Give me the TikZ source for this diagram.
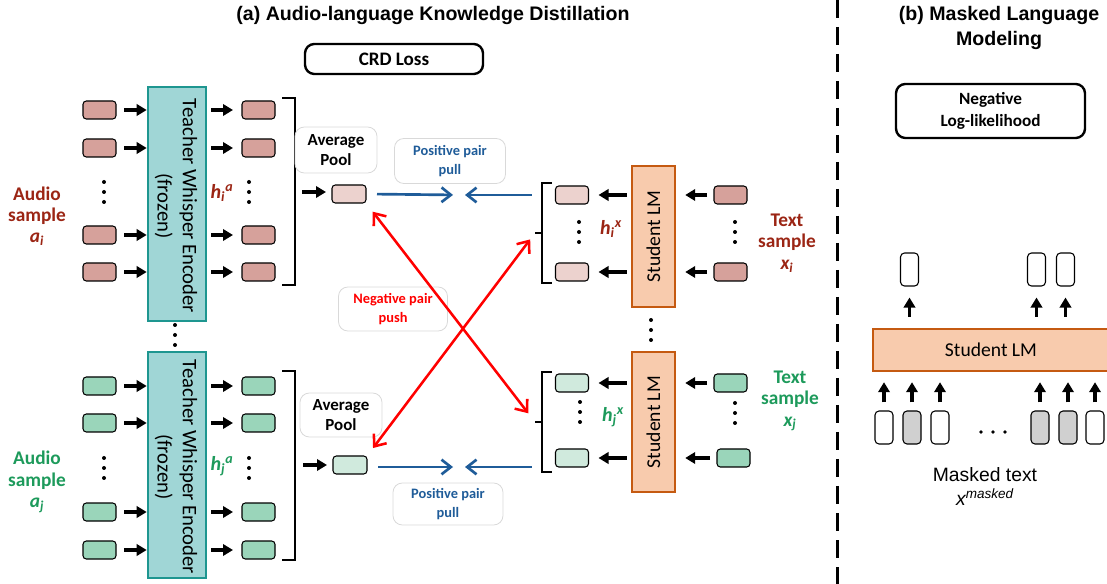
\documentclass[tikz,border=0pt]{standalone}
\usepackage{fontspec}
\setmainfont{Carlito}
\newfontfamily\arialfont{Liberation Sans}
\usetikzlibrary{arrows.meta}
\newlength{\pxu}\setlength{\pxu}{0.75pt}
\definecolor{inred}{HTML}{D6A19B}
\definecolor{outred}{HTML}{ECD2CE}
\definecolor{ingreen}{HTML}{9AD5BA}
\definecolor{outgreen}{HTML}{D0EADD}
\definecolor{tealf}{HTML}{A0D6D6}
\definecolor{tealb}{HTML}{1E9690}
\definecolor{orgf}{HTML}{F8CBAD}
\definecolor{orgb}{HTML}{C55A11}
\definecolor{dred}{HTML}{9B2514}
\definecolor{dgreen}{HTML}{1D9A5B}
\definecolor{pblue}{HTML}{1F5C99}
\definecolor{lgray}{HTML}{D9D9D9}
\definecolor{mgray}{HTML}{D0D0D0}
\newcommand{\fs}[2]{\fontsize{#1}{#2}\selectfont}
\newcommand{\vdotsat}[2]{\fill (#1,#2-10) circle[radius=1.5pt] (#1,#2) circle[radius=1.5pt] (#1,#2+10) circle[radius=1.5pt];}
\tikzset{
  vec/.style={draw=black, line width=0.8pt, rounded corners=2.5pt, minimum width=33\pxu, minimum height=18\pxu, inner sep=0pt, outer sep=0pt},
  inR/.style={vec, fill=inred}, outR/.style={vec, fill=outred},
  inG/.style={vec, fill=ingreen}, outG/.style={vec, fill=outgreen},
  tok/.style={draw=black, line width=0.8pt, rounded corners=3pt, minimum width=18\pxu, minimum height=33\pxu, inner sep=0pt, fill=white},
  teacher/.style={draw=tealb, fill=tealf, line width=2.6\pxu, minimum width=58\pxu, inner sep=0pt},
  student/.style={draw=orgb, fill=orgf, line width=2.4\pxu, minimum width=43\pxu, inner sep=0pt},
  lbl/.style={draw=lgray, line width=0.6pt, rounded corners=7pt, inner sep=0pt, align=center, fill=white},
  loss/.style={draw=black, line width=2.4\pxu, rounded corners=7pt, inner sep=0pt, align=center},
  blk/.style={line width=2.3pt, -{Triangle[length=7.5pt,width=8.5pt]}},
  pull/.style={draw=pblue, line width=2pt, -{Straight Barb[length=7pt,width=11pt]}},
  push/.style={draw=red, line width=1.9pt, {Straight Barb[length=7.5pt,width=12pt]}-{Straight Barb[length=7.5pt,width=12pt]}},
  brk/.style={line width=1.9pt},
  smp/.style={align=center, font=\bfseries\fs{14.5}{16}, inner sep=0pt},
  hh/.style={font=\bfseries\itshape\fs{15}{18}, inner sep=0pt},
  pl/.style={font=\bfseries\fs{10.8}{14.5}},
  ap/.style={font=\bfseries\fs{12.7}{15.5}},
}
\begin{document}
\begin{tikzpicture}[x=0.75pt,y=-0.75pt]
\useasboundingbox (0,0) rectangle (1107,584);
% titles
\node[font=\arialfont\bfseries\fs{14.7}{18}] (titA) at (433,15) {(a) Audio-language Knowledge Distillation};
\node[font=\arialfont\bfseries\fs{14.7}{18.5}, align=center] (titB) at (999,28) {(b) Masked Language\\Modeling};
\draw[line width=3\pxu, dash pattern=on 18\pxu off 9\pxu] (837,0) -- (837,584);
% CRD loss
\node[loss, minimum width=178\pxu, minimum height=30\pxu, font=\bfseries\fs{14.3}{17}] (crd) at (394,59) {CRD Loss};

% ===== audio group i =====
\node[teacher, minimum height=234\pxu] (tA) at (177,204) {};
\node[rotate=-90, align=center, font=\fs{15.5}{19}, inner sep=0pt] (tAt) at (176,206) {Teacher Whisper Encoder\\(frozen)};
\foreach \n/\y in {1/110,2/148,3/235,4/272}{
  \node[inR] (ia\n) at (99.5,\y) {};
  \node[inR] (oa\n) at (258.5,\y) {};
  \draw[blk, shorten <=8\pxu] (ia\n.east) -- (ia\n.east -| tA.west);
  \draw[blk, shorten <=4\pxu, shorten >=9\pxu] (ia\n.east -| tA.east) -- (oa\n.west);
}
\vdotsat{104}{192}
\vdotsat{249}{192}
\node[smp, text=dred] (audA) at (37,216) {Audio\\sample\\\textit{a\textsubscript{i}}};
\node[hh, text=dred] (hA) at (222,193) {h\textsubscript{i}\textsuperscript{a}};
\draw[brk] (282,98) -- (295,98) -- (295,285) -- (282,285);
\coordinate (brA) at (295,192);
\node[lbl, minimum width=82\pxu, minimum height=46\pxu, ap] (avgA) at (336,150) {Average\\Pool};
\node[outR, minimum width=34\pxu] (pa) at (349,194) {};
\draw[blk, shorten <=7\pxu, shorten >=6\pxu] (brA) -- (brA -| pa.west);

% ===== audio group j =====
\node[teacher, minimum height=226\pxu] (tB) at (177,465) {};
\node[rotate=-90, align=center, font=\fs{15.5}{19}, inner sep=0pt] (tBt) at (176,467) {Teacher Whisper Encoder\\(frozen)};
\foreach \n/\y in {1/386,2/423,3/512,4/550}{
  \node[inG] (ib\n) at (99.5,\y) {};
  \node[inG] (ob\n) at (258.5,\y) {};
  \draw[blk, shorten <=8\pxu] (ib\n.east) -- (ib\n.east -| tB.west);
  \draw[blk, shorten <=4\pxu, shorten >=9\pxu] (ib\n.east -| tB.east) -- (ob\n.west);
}
\vdotsat{104}{468}
\vdotsat{249}{468}
\vdotsat{175}{335}
\node[smp, text=dgreen] (audB) at (37,482) {Audio\\sample\\\textit{a\textsubscript{j}}};
\node[hh, text=dgreen] (hB) at (222,466) {h\textsubscript{j}\textsuperscript{a}};
\draw[brk] (282,371) -- (295,371) -- (295,560) -- (282,560);
\coordinate (brB) at (295,465);
\node[lbl, minimum width=82\pxu, minimum height=44\pxu, ap] (avgB) at (341,415) {Average\\Pool};
\node[outG, minimum width=34\pxu] (pb) at (350,465) {};
\draw[blk, shorten <=8\pxu, shorten >=6\pxu] (brB) -- (pb.west);

% ===== student i =====
\node[student, minimum height=141\pxu] (sA) at (653.5,236.5) {};
\node[rotate=90, font=\fs{14.7}{17}, inner sep=0pt] (sAt) at (sA) {Student LM};
\foreach \n/\y in {1/195,2/272}{
  \node[outR] (sa\n) at (572,\y) {};
  \node[inR] (xa\n) at (730.5,\y) {};
  \draw[blk, shorten <=4\pxu, shorten >=10\pxu] (sa\n.east -| sA.west) -- (sa\n.east);
  \draw[blk, shorten <=7\pxu, shorten >=9\pxu] (xa\n.west) -- (xa\n.west -| sA.east);
}
\vdotsat{579}{232}
\vdotsat{735}{232}
\draw[brk] (552,183) -- (542,183) -- (542,283) -- (552,283);
\draw[brk] (542,233) -- (535,233);
\coordinate (bxA) at (535,233);
\node[hh, text=dred] (hxA) at (611,229) {h\textsubscript{i}\textsuperscript{x}};
\node[smp, text=dred] (txA) at (787,243) {Text\\sample\\\textit{x\textsubscript{i}}};

% ===== student j =====
\node[student, minimum height=140\pxu] (sB) at (653.5,422) {};
\node[rotate=90, font=\fs{14.7}{17}, inner sep=0pt] (sBt) at (sB) {Student LM};
\foreach \n/\y/\xx in {1/383/730.5,2/458/733.5}{
  \node[outG] (sb\n) at (572,\y) {};
  \node[inG] (xb\n) at (\xx,\y) {};
  \draw[blk, shorten <=4\pxu, shorten >=10\pxu] (sb\n.east -| sB.west) -- (sb\n.east);
  \draw[blk, shorten <=7\pxu, shorten >=9\pxu] (xb\n.west) -- (xb\n.west -| sB.east);
}
\vdotsat{580}{412}
\vdotsat{735}{413}
\vdotsat{651}{330}
\draw[brk] (552,372) -- (542,372) -- (542,472) -- (552,472);
\draw[brk] (542,422) -- (535,422);
\coordinate (bxB) at (535,422);
\node[hh, text=dgreen] (hxB) at (613,417) {h\textsubscript{j}\textsuperscript{x}};
\node[smp, text=dgreen] (txB) at (790,401) {Text\\sample\\\textit{x\textsubscript{j}}};

% ===== contrastive arrows =====
\coordinate (meetA) at (459,195);
\coordinate (meetB) at (459,467);
\node[lbl, minimum width=111\pxu, minimum height=45\pxu, text=pblue, pl] (posA) at (450,161) {Positive pair\\pull};
\node[lbl, minimum width=110\pxu, minimum height=42\pxu, text=pblue, pl] (posB) at (448,504) {Positive pair\\pull};
\draw[pull, shorten <=11\pxu, shorten >=6\pxu] (pa.east) -- (meetA);
\draw[pull, shorten <=24\pxu, shorten >=6\pxu] (sa1.west) -- (meetA);
\draw[pull, shorten <=11\pxu, shorten >=6\pxu] (pb.east |- meetB) -- (meetB);
\draw[pull, shorten <=24\pxu, shorten >=6\pxu] (sb2.west |- meetB) -- (meetB);
\node[lbl, minimum width=109\pxu, minimum height=44\pxu, text=red, pl] (neg) at (393,309) {Negative pair\\push};
\draw[push, shorten <=11\pxu, shorten >=11\pxu] (pa.south east) -- (bxB);
\draw[push, shorten <=10\pxu, shorten >=8\pxu] (pb.north east) -- (bxA);

% ===== panel (b) =====
\node[loss, minimum width=189\pxu, minimum height=54\pxu, font=\bfseries\fs{12.9}{16}] (nll) at (990.5,111) {Negative\\Log-likelihood};
\node[draw=orgb, fill=orgf, line width=2.4\pxu, minimum width=236\pxu, minimum height=42\pxu, inner sep=0pt, font=\fs{14.7}{17}] (slm) at (991,350) {Student LM};
\foreach \n/\x in {1/909.5,2/1036.5,3/1065.5}{
  \node[tok] (o\n) at (\x,269.5) {};
  \draw[blk, shorten <=11\pxu, shorten >=11\pxu] (o\n |- slm.north) -- (o\n.south);
}
\foreach \n/\x/\f in {1/884/white,2/912/mgray,3/940/white,4/1040/mgray,5/1068/mgray,6/1095/white}{
  \node[tok, fill=\f] (t\n) at (\x,427.5) {};
  \draw[blk, shorten <=8\pxu, shorten >=10\pxu] (t\n.north) -- (t\n |- slm.south);
}
\fill (981,432) circle[radius=1.4pt] (993,432) circle[radius=1.4pt] (1005,432) circle[radius=1.4pt];
\node[font=\arialfont\fs{14.5}{17}, inner sep=0pt] (mt) at (985,475) {Masked text};
\node[font=\arialfont\itshape\fs{14.5}{17}, inner sep=0pt] (xm) at (985,497) {x\textsuperscript{masked}};
\end{tikzpicture}
\end{document}
